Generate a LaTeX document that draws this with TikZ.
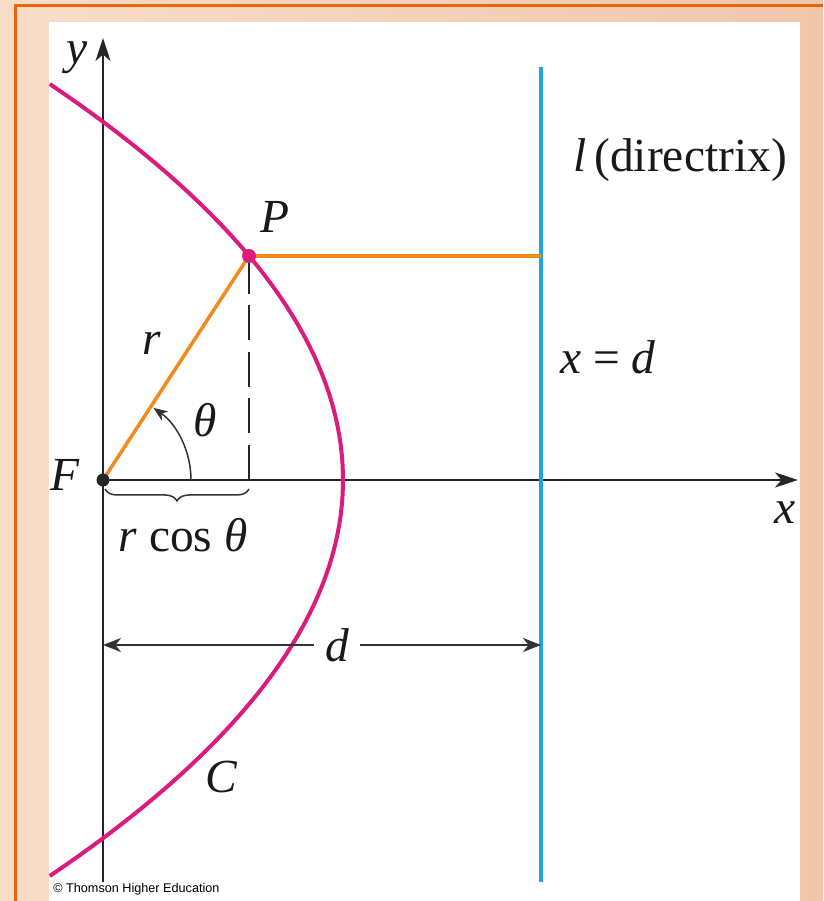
\documentclass[tikz,border=0pt]{standalone}
\usepackage{fontspec}
\setmainfont{Liberation Serif}
\newfontfamily\copyfont{Liberation Sans}
\usetikzlibrary{arrows.meta,decorations.pathreplacing}
\definecolor{conicpink}{HTML}{DD1A7E}
\definecolor{segorange}{HTML}{F28A1E}
\definecolor{dirblue}{HTML}{1BA6E6}
\definecolor{frameorange}{HTML}{E8650C}
\definecolor{peachL}{HTML}{F8DDC9}
\definecolor{peachR}{HTML}{F0C6AA}
\begin{document}
\begin{tikzpicture}[x=0.2mm,y=0.2mm,
lab/.style={font=\fontsize{27}{30}\selectfont,inner sep=0pt,text=black!90},
axis/.style={line width=0.45mm,black!85,-{Stealth[length=4.6mm,width=3mm,inset=1.3mm]}},
dim/.style={line width=0.35mm,black!80,-{Stealth[length=3.6mm,width=2.8mm,inset=1.1mm]}},
seg/.style={line width=0.7mm,segorange},
conic/.style={line width=0.8mm,conicpink},
brc/.style={decorate,decoration={brace,mirror,amplitude=2.4mm},line width=0.3mm,black!80}]
\useasboundingbox (-103,-421) rectangle (720,480);
% backdrop
\shade[left color=peachL,right color=peachR] (-103,-421) rectangle (720,480);
\draw[frameorange,line width=0.6mm] (720,474) -- (-87,474) -- (-87,-421);
\fill[white] (-54,-421) rectangle (697,458);
% points
\coordinate (F) at (0,0);
\coordinate (P) at (146,224);
\coordinate (foot) at (146,0);
\coordinate (Q) at (438,224);
\coordinate (ybot) at (0,-402);
\coordinate (ytop) at (0,442);
\coordinate (xtip) at (695,0);
\coordinate (ltop) at (438,413);
\coordinate (lbot) at (438,-402);
\coordinate (dL) at (0,-165);
\coordinate (dR) at (438,-165);
\coordinate (a0) at (88,0);
% axes
\draw[axis] (ybot) -- (ytop);
\draw[axis] (F) -- (xtip);
\node[lab] (ylab) at (-26,422) {\textit{y}};
\node[lab] (xlab) at (682,-33) {\textit{x}};
% directrix
\draw[dirblue,line width=0.65mm] (lbot) -- (ltop);
\node[lab,anchor=west] (dirlab) at (470,320) {\textit{l}\,(directrix)};
\node[lab,anchor=west] (eqlab) at (457,123) {\textit{x} = \textit{d}};
% the conic
\draw[conic] plot[domain=-3.96:3.96,samples=80,variable=\t] ({240-18.7*\t*\t},{100*\t});
\node[lab] (clab) at (119,-297) {\textit{C}};
% r and distance to l
\draw[seg] (F) -- (P);
\draw[seg] (P) -- (Q);
\draw[line width=0.5mm,black!85,dash pattern=on 7mm off 2.3mm] (foot) -- (P);
\node[lab] (rlab) at (49,137) {\textit{r}};
\draw[line width=0.3mm,black!80,-{Stealth[length=2.8mm,width=2.2mm,inset=0.8mm]}] (a0) arc[start angle=0,end angle=55,radius=17.6mm];
\node[lab] (thlab) at (102,60) {\textit{θ}};
\draw[brc] (2,-9) -- (146,-9);
\node[lab] (rclab) at (80,-55) {\textit{r} cos \textit{θ}};
% d
\node[lab,fill=white,inner xsep=2.2mm] (dlab) at (234,-165) {\textit{d}};
\draw[dim] (dlab) -- (dL);
\draw[dim] (dlab) -- (dR);
% dots and their labels
\fill[black!85] (F) circle (1.3mm);
\fill[conicpink] (P) circle (1.4mm);
\node[lab] (flab) at (-38,5) {\textit{F}};
\node[lab] (plab) at (172,263) {\textit{P}};
\node[anchor=west,font=\copyfont\fontsize{7.2}{8}\selectfont,inner sep=0pt] (cr) at (-50,-409) {© Thomson Higher Education};
\end{tikzpicture}
\end{document}
